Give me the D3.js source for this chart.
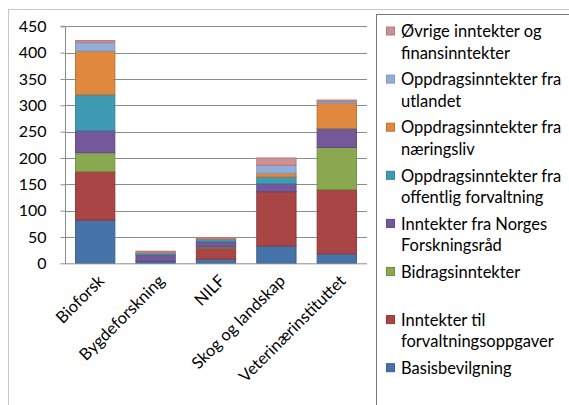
<!DOCTYPE html>
<html><head><meta charset="utf-8">
<script src="https://cdn.jsdelivr.net/npm/d3@7"></script>
<style>
html,body{margin:0;padding:0;background:#fff;}
svg{display:block;font-family:Lato,"Open Sans",sans-serif;}
</style></head>
<body><svg id="c" width="569" height="405"></svg>
<script>
const categories = ["Bioforsk","Bygdeforskning","NILF","Skog og landskap","Veterinærinstituttet"];
const seriesNames = [
  "Basisbevilgning",
  "Inntekter til forvaltningsoppgaver",
  "Bidragsinntekter",
  "Inntekter fra Norges Forskningsråd",
  "Oppdragsinntekter fra offentlig forvaltning",
  "Oppdragsinntekter fra næringsliv",
  "Oppdragsinntekter fra utlandet",
  "Øvrige inntekter og finansinntekter"
];
const basisbevilgning   = [82, 4, 8, 33, 18];
const forvaltning       = [92, 0, 21, 103, 122];
const bidrag            = [36, 0, 2, 0, 80];
const forskningsraad    = [42, 12, 10, 15, 35];
const offentlig         = [68, 3, 4, 13, 1];
const naeringsliv       = [83, 1, 2, 7, 48];
const utlandet          = [16, 1, 1, 15, 3];
const ovrige            = [4, 2, 1, 14, 3];
const yTicks = [0,50,100,150,200,250,300,350,400,450];
const legendLines = [
  ["Øvrige inntekter og","finansinntekter"],
  ["Oppdragsinntekter fra","utlandet"],
  ["Oppdragsinntekter fra","næringsliv"],
  ["Oppdragsinntekter fra","offentlig forvaltning"],
  ["Inntekter fra Norges","Forskningsråd"],
  ["Bidragsinntekter"],
  ["Inntekter til","forvaltningsoppgaver"],
  ["Basisbevilgning"]
];

const fills   = ["#4673a9","#a94545","#8aa84f","#75589a","#3f9bb4","#e0883e","#93acd8","#cd9192"];
const strokes = ["#3a6090","#8e3a3a","#74903f","#614882","#35839a","#bf7032","#7f97c2","#b37b7c"];

const allSeries = [basisbevilgning, forvaltning, bidrag, forskningsraad, offentlig, naeringsliv, utlandet, ovrige];
const rows = categories.map((c,i)=>{
  const r = {cat:c};
  seriesNames.forEach((s,j)=> r[s] = allSeries[j][i]);
  return r;
});
const stacked = d3.stack().keys(seriesNames)(rows);

const svg = d3.select("#c");
// outer chart border
svg.append("rect").attr("x",8.5).attr("y",9.5).attr("width",570).attr("height",400)
  .attr("fill","none").attr("stroke","#c8c8c8").attr("stroke-width",1);

const x = d3.scaleBand().domain(categories).range([65,367]).paddingInner(1/3).paddingOuter(1/6);
const y = d3.scaleLinear().domain([0,450]).range([263.3,26.3]);

// gridlines
svg.append("g").selectAll("line").data(yTicks.filter(t=>t>0)).join("line")
  .attr("x1",66).attr("x2",367)
  .attr("y1",d=>Math.round(y(d))+0.5).attr("y2",d=>Math.round(y(d))+0.5)
  .attr("stroke","#8c8c8c").attr("stroke-width",1);

// y axis
const yAxis = svg.append("g").attr("transform","translate(65.5,0)")
  .call(d3.axisLeft(y).tickValues(yTicks).tickSize(5).tickPadding(14).tickFormat(d3.format("d")));
yAxis.select(".domain").attr("stroke","#8c8c8c").attr("d","M-5,"+(y(450))+"H0V"+y(0));
yAxis.selectAll(".tick line").attr("stroke","#8c8c8c");
yAxis.selectAll(".tick text").attr("fill","#000").attr("font-size","16px").attr("font-family","Lato");

// bars
svg.append("g").selectAll("g").data(stacked).join("g")
  .attr("fill",(d,i)=>fills[i]).attr("stroke",(d,i)=>strokes[i]).attr("stroke-width",1)
  .selectAll("rect").data(d=>d.filter(p=>p[1]-p[0]>0)).join("rect")
  .attr("x",d=>x(d.data.cat)+0.5)
  .attr("width",x.bandwidth()-1)
  .attr("y",d=>y(d[1]))
  .attr("height",d=>Math.max(0,y(d[0])-y(d[1])));

// x axis line
svg.append("line").attr("x1",65).attr("x2",367).attr("y1",263.8).attr("y2",263.8)
  .attr("stroke","#8c8c8c").attr("stroke-width",1);

// x labels
svg.append("g").selectAll("text").data(categories).join("text")
  .attr("transform",d=>`translate(${x(d)+x.bandwidth()/2+10},${282}) rotate(-45)`)
  .attr("text-anchor","end").attr("font-size","16.5px").attr("fill","#000")
  .text(d=>d);

// legend
svg.append("rect").attr("x",376.5).attr("y",14.5).attr("width",250).attr("height",420)
  .attr("fill","#fff").attr("stroke","#777").attr("stroke-width",1);
const lg = svg.append("g");
legendLines.forEach((lines,i)=>{
  const yc = 31.5 + i*48.1;
  const si = seriesNames.length-1-i;
  lg.append("rect").attr("x",386.5).attr("y",yc-4.5).attr("width",8).attr("height",8)
    .attr("fill",fills[si]).attr("stroke",strokes[si]);
  lines.forEach((t,k)=>{
    lg.append("text").attr("x",401).attr("y",yc+k*21.6).attr("dy","0.35em")
      .attr("font-size","16.5px").attr("fill","#000").text(t);
  });
});
</script></body></html>
